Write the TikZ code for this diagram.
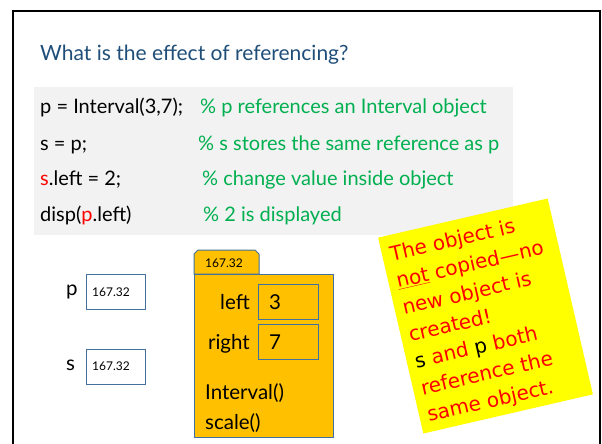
\documentclass[tikz,border=0pt]{standalone}
\usepackage{fontspec}
\setmainfont{Lato}
\newfontfamily\notefont{DejaVu Sans}
\definecolor{titleblue}{HTML}{1F4E79}
\definecolor{codegreen}{HTML}{00B050}
\definecolor{codegray}{HTML}{F2F2F2}
\definecolor{objorange}{HTML}{FFC000}
\definecolor{boxblue}{HTML}{41719C}
\definecolor{noteyellow}{HTML}{FFFF00}
\definecolor{notered}{HTML}{FF0000}
\tikzset{
  codetxt/.style={anchor=base west, inner sep=0pt, font=\fontsize{20}{24}\selectfont},
  cmt/.style={codetxt, text=codegreen},
  refbox/.style={draw=boxblue, line width=1pt, fill=white, minimum width=59pt, minimum height=35pt, anchor=north west, inner sep=0pt},
  fieldbox/.style={draw=boxblue, line width=1pt, minimum width=60pt, minimum height=35pt, anchor=north west, inner sep=0pt},
  smalltxt/.style={font=\fontsize{12}{14}\selectfont, inner sep=0pt},
  objtxt/.style={anchor=base west, inner sep=0pt, font=\fontsize{20.5}{24}\selectfont},
  noteline/.style={anchor=base west, inner sep=0pt, text=notered, font=\notefont\fontsize{20}{24}\selectfont},
}
\begin{document}
\begin{tikzpicture}[x=1pt,y=-1pt]
\useasboundingbox (0,0) rectangle (602,444);
% frame
\draw[line width=1.6pt] (13,470) -- (13,11) -- (600,11) -- (600,470);
% title
\node[anchor=base west, inner sep=0pt, text=titleblue, font=\fontsize{21}{26}\selectfont] (title) at (40,61) {What is the effect of referencing?};
% code block
\fill[codegray] (34,87) rectangle (513,235);
\node[codetxt] (c1) at (40,113) {p = Interval(3,7);};
\node[codetxt] (c2) at (40,150) {s = p;};
\node[codetxt] (c3) at (40,185) {\textcolor{red}{s}.left = 2;};
\node[codetxt] (c4) at (40,221) {disp(\textcolor{red}{p}.left)};
\node[cmt] (m1) at (200,113) {\% p references an Interval object};
\node[cmt] (m2) at (198,150) {\% s stores the same reference as p};
\node[cmt] (m3) at (202,185) {\% change value inside object};
\node[cmt] (m4) at (203,221) {\% 2 is displayed};
% reference variables
\node[refbox] (pbox) at (86,274) {};
\node[smalltxt, anchor=west] (pval) at (92,292) {167.32};
\node[objtxt] (plab) at (66,295) {p};
\node[refbox] (sbox) at (86,349) {};
\node[smalltxt, anchor=west] (sval) at (92,366) {167.32};
\node[objtxt] (slab) at (66,370) {s};
% object
\draw[draw=boxblue, fill=objorange, line width=1pt] (194,274) -- (194,254) -- (198,250) -- (255,250) -- (259,254) -- (259,274) -- cycle;
\node[smalltxt, anchor=west] (tabval) at (205,263) {167.32};
\node[draw=boxblue, fill=objorange, line width=1pt, minimum width=139pt, minimum height=163pt, anchor=north west, inner sep=0pt] (obj) at (194,274) {};
\node[fieldbox] (fleft) at (258,284) {};
\node[fieldbox] (fright) at (258,324) {};
\node[objtxt, anchor=base east] (lleft) at (250,309) {left};
\node[objtxt] (vleft) at (269,309) {3};
\node[objtxt, anchor=base east] (lright) at (250,349) {right};
\node[objtxt] (vright) at (269,349) {7};
\node[objtxt] (m5) at (205,399) {Interval()};
\node[objtxt] (m6) at (205,429) {scale()};
% note
\begin{scope}[shift={(485.5,316)}, rotate=13, transform shape]
\fill[noteyellow] (-87,-100.5) rectangle (87,100.5);
\node[noteline] (n1) at (-79,-74.5) {The object is};
\node[noteline] (n2) at (-79,-47) {\underline{not} copied—no};
\node[noteline] (n3) at (-79,-19.5) {new object is};
\node[noteline] (n4) at (-79,8) {created!};
\node[noteline] (n5) at (-79,35.5) {\textcolor{black}{s} and \textcolor{black}{p} both};
\node[noteline] (n6) at (-79,63) {reference the};
\node[noteline] (n7) at (-79,90.5) {same object.};
\end{scope}
\end{tikzpicture}
\end{document}
